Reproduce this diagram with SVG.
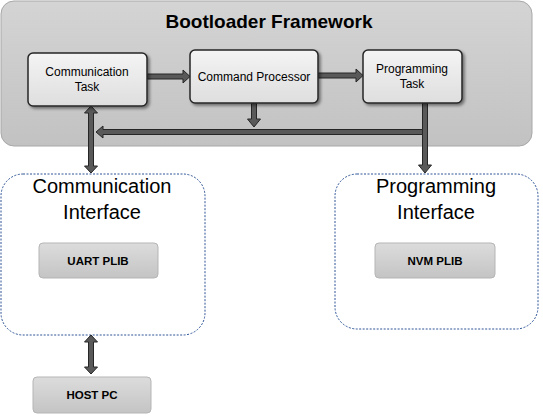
<svg xmlns="http://www.w3.org/2000/svg" width="543" height="417" viewBox="0 0 543 417">
<defs>
<linearGradient id="gFrame" x1="0" y1="0" x2="0" y2="1">
<stop offset="0" stop-color="#d4d4d4"/>
<stop offset="1" stop-color="#c2c2c2"/>
</linearGradient>
<linearGradient id="gTask" x1="0" y1="0" x2="0" y2="1">
<stop offset="0" stop-color="#f4f4f4"/>
<stop offset="1" stop-color="#dedede"/>
</linearGradient>
<linearGradient id="gPlib" x1="0" y1="0" x2="0" y2="1">
<stop offset="0" stop-color="#dcdcdc"/>
<stop offset="1" stop-color="#c4c4c4"/>
</linearGradient>
<filter id="shadow" x="-10%" y="-10%" width="125%" height="130%">
<feDropShadow dx="2" dy="2" stdDeviation="1.5" flood-color="#000" flood-opacity="0.45"/>
</filter>
</defs>
<style>
.frame{fill:url(#gFrame);stroke:#a8a8a8;stroke-width:1}
.task{fill:url(#gTask);stroke:#262626;stroke-width:1.5;filter:url(#shadow)}
.plib{fill:url(#gPlib);stroke:#b5b5b5;stroke-width:1}
.iface{fill:#ffffff;stroke:#2f5597;stroke-width:1;stroke-dasharray:2 1.5}
.arrow{fill:#595959;stroke:#262626;stroke-width:1;stroke-linejoin:miter}
.title{font-family:"Liberation Sans",Arial,sans-serif;font-weight:bold;font-size:19px;fill:#000;text-anchor:middle}
.tl{font-family:"Liberation Sans",Arial,sans-serif;font-size:12px;fill:#000;text-anchor:middle}
.il{font-family:"Liberation Sans",Arial,sans-serif;font-size:20px;fill:#000;text-anchor:middle}
.pl{font-family:"Liberation Sans",Arial,sans-serif;font-weight:bold;font-size:11.5px;fill:#000;text-anchor:middle}
</style>
<rect width="543" height="417" fill="#ffffff"/>

<g id="framework">
<rect class="frame" x="1" y="1" width="531" height="145" rx="13"/>
<text class="title" x="269" y="28">Bootloader Framework</text>
</g>

<g id="comm-iface">
<rect class="iface" x="1" y="174" width="204" height="161" rx="22"/>
<text class="il" x="102" y="193">Communication</text>
<text class="il" x="102" y="219">Interface</text>
</g>

<g id="prog-iface">
<rect class="iface" x="335" y="174" width="203" height="155" rx="22"/>
<text class="il" x="436" y="193">Programming</text>
<text class="il" x="436" y="219">Interface</text>
</g>

<g id="connectors">
<!-- Communication Task -> Command Processor -->
<polygon class="arrow" points="147,74 183,74 183,70 190,76.5 183,83 183,79 147,79"/>
<!-- Command Processor -> Programming Task -->
<polygon class="arrow" points="318,73 356,73 356,69 363,75.5 356,82 356,78 318,78"/>
<!-- Command Processor down to bus -->
<polygon class="arrow" points="251.5,103 256.5,103 256.5,119 260.5,119 254,127 247.5,119 251.5,119"/>
<!-- Programming Task down to Programming Interface -->
<polygon class="arrow" points="422.5,103 427.5,103 427.5,165 431.5,165 425,173 418.5,165 422.5,165"/>
<!-- Bus to Communication Task side -->
<polygon class="arrow" points="422.5,129.5 103,129.5 103,126 96,132 103,138 103,134.5 422.5,134.5"/>
<!-- Communication Task <-> Communication Interface -->
<polygon class="arrow" points="91,106 97.5,113 93.5,113 93.5,166 97.5,166 91,173 84.5,166 88.5,166 88.5,113 84.5,113"/>
<!-- Communication Interface <-> HOST PC -->
<polygon class="arrow" points="91,335 97.5,342 93.5,342 93.5,367 97.5,367 91,374 84.5,367 88.5,367 88.5,342 84.5,342"/>
</g>

<g id="comm-task">
<rect class="task" x="28" y="53" width="119" height="53" rx="5"/>
<text class="tl" x="87" y="76">Communication</text>
<text class="tl" x="87" y="91">Task</text>
</g>

<g id="cmd-proc">
<rect class="task" x="190" y="50" width="128" height="53" rx="5"/>
<text class="tl" x="254" y="81">Command Processor</text>
</g>

<g id="prog-task">
<rect class="task" x="363" y="50" width="99" height="53" rx="5"/>
<text class="tl" x="412" y="73">Programming</text>
<text class="tl" x="412" y="88">Task</text>
</g>

<g id="uart-plib">
<rect class="plib" x="39" y="243" width="119" height="35" rx="4"/>
<text class="pl" x="98" y="265">UART PLIB</text>
</g>

<g id="nvm-plib">
<rect class="plib" x="375" y="243" width="120" height="35" rx="4"/>
<text class="pl" x="435" y="265">NVM PLIB</text>
</g>

<g id="host-pc">
<rect class="plib" x="33" y="377" width="118" height="36" rx="4"/>
<text class="pl" x="92" y="399">HOST PC</text>
</g>
</svg>
